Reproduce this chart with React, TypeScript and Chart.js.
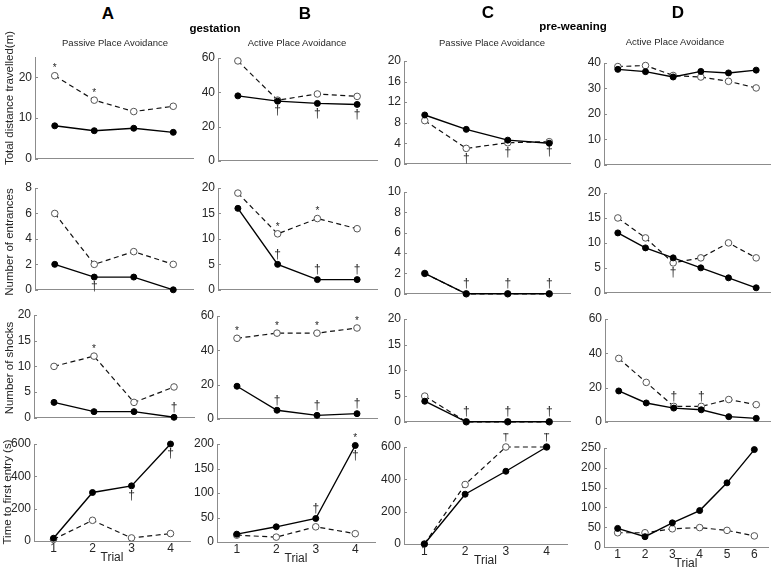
import React, { useEffect, useRef } from 'react';
import { Chart, registerables } from 'chart.js';
Chart.register(...registerables);

// ---------- data ----------
const trials4 = [1, 2, 3, 4];
const trials6 = [1, 2, 3, 4, 5, 6];

// Total distance travelled (m)
const distA_open = [20.4, 14.4, 11.6, 12.9];
const distA_filled = [8.1, 6.9, 7.5, 6.5];
const distB_open = [58.3, 35.4, 39.0, 37.6];
const distB_filled = [37.9, 34.8, 33.5, 32.9];
const distC_open = [8.4, 3.0, 4.1, 4.3];
const distC_filled = [9.5, 6.7, 4.6, 4.0];
const distD_open = [38.6, 39.0, 35.1, 34.5, 32.8, 30.2];
const distD_filled = [37.5, 36.6, 34.5, 36.7, 36.1, 37.2];

// Number of entrances
const entA_open = [6, 2, 3, 2];
const entA_filled = [2, 1, 1, 0];
const entB_open = [19, 11, 14, 12];
const entB_filled = [16, 5, 2, 2];
const entC_open = [2, 0, 0, 0];
const entC_filled = [2, 0, 0, 0];
const entD_open = [15, 11, 6, 7, 10, 7];
const entD_filled = [12, 9, 7, 5, 3, 1];

// Number of shocks
const shkA_open = [10, 12, 3, 6];
const shkA_filled = [3, 1.2, 1.2, 0.1];
const shkB_open = [47, 50, 50, 53];
const shkB_filled = [19, 5, 2, 3];
const shkC_open = [5, 0, 0, 0];
const shkC_filled = [4, 0, 0, 0];
const shkD_open = [37, 23, 9, 9, 13, 10];
const shkD_filled = [18, 11, 8, 7, 3, 2];

// Time to first entry (s)
const tfeA_open = [10, 128, 19, 46];
const tfeA_filled = [17, 300, 341, 600];
const tfeB_open = [14, 10, 31, 17];
const tfeB_filled = [16, 31, 48, 197];
const tfeC_open = [0, 368, 600, 600];
const tfeC_filled = [0, 308, 450, 600];
const tfeD_open = [36, 36, 46, 49, 42, 28];
const tfeD_filled = [47, 26, 61, 92, 162, 246];

// y tick labels
const ticksDistA = [0, 10, 20];
const ticksDistB = [0, 20, 40, 60];
const ticksDistC = [0, 4, 8, 12, 16, 20];
const ticksDistD = [0, 10, 20, 30, 40];
const ticksEntA = [0, 2, 4, 6, 8];
const ticksEntB = [0, 5, 10, 15, 20];
const ticksEntC = [0, 2, 4, 6, 8, 10];
const ticksEntD = [0, 5, 10, 15, 20];
const ticksShkA = [0, 5, 10, 15, 20];
const ticksShkB = [0, 20, 40, 60];
const ticksShkC = [0, 5, 10, 15, 20];
const ticksShkD = [0, 20, 40, 60];
const ticksTfeA = [0, 200, 400, 600];
const ticksTfeB = [0, 50, 100, 150, 200];
const ticksTfeC = [0, 200, 400, 600];
const ticksTfeD = [0, 50, 100, 150, 200, 250];

// significance marks: series, point index, symbol, side
type Mark = { s: 'open' | 'filled'; i: number; t: string; p: 'above' | 'below' };
const marksDistA: Mark[] = [{ s: 'open', i: 0, t: '*', p: 'above' }, { s: 'open', i: 1, t: '*', p: 'above' }];
const marksDistB: Mark[] = [1, 2, 3].map((i) => ({ s: 'filled', i, t: '†', p: 'below' } as Mark));
const marksDistC: Mark[] = [1, 2, 3].map((i) => ({ s: 'open', i, t: '†', p: 'below' } as Mark));
const marksDistD: Mark[] = [];
const marksEntA: Mark[] = [{ s: 'filled', i: 1, t: '†', p: 'below' }];
const marksEntB: Mark[] = [
  { s: 'open', i: 1, t: '*', p: 'above' }, { s: 'open', i: 2, t: '*', p: 'above' },
  ...[1, 2, 3].map((i) => ({ s: 'filled', i, t: '†', p: 'above' } as Mark)),
];
const marksEntC: Mark[] = [1, 2, 3].map((i) => ({ s: 'filled', i, t: '†', p: 'above' } as Mark));
const marksEntD: Mark[] = [{ s: 'open', i: 2, t: '†', p: 'below' }];
const marksShkA: Mark[] = [{ s: 'open', i: 1, t: '*', p: 'above' }, { s: 'filled', i: 3, t: '†', p: 'above' }];
const marksShkB: Mark[] = [
  ...[0, 1, 2, 3].map((i) => ({ s: 'open', i, t: '*', p: 'above' } as Mark)),
  ...[1, 2, 3].map((i) => ({ s: 'filled', i, t: '†', p: 'above' } as Mark)),
];
const marksShkC: Mark[] = [1, 2, 3].map((i) => ({ s: 'filled', i, t: '†', p: 'above' } as Mark));
const marksShkD: Mark[] = [2, 3].map((i) => ({ s: 'open', i, t: '†', p: 'above' } as Mark));
const marksTfeA: Mark[] = [{ s: 'filled', i: 2, t: '†', p: 'below' }, { s: 'filled', i: 3, t: '†', p: 'below' }];
const marksTfeB: Mark[] = [
  { s: 'filled', i: 2, t: '†', p: 'above' }, { s: 'filled', i: 3, t: '*', p: 'above' }, { s: 'filled', i: 3, t: '†', p: 'below' },
];
const marksTfeC: Mark[] = [2, 3].map((i) => ({ s: 'open', i, t: '†', p: 'above' } as Mark));
const marksTfeD: Mark[] = [];

// ---------- layout (page pixels of each plot box) ----------
type Box = { l: number; r: number; t: number; b: number };
type PanelCfg = {
  x: number[]; open: number[]; filled: number[]; yTicks: number[]; yMax: number;
  marks: Mark[]; box: Box; xLabels: boolean;
};

const panels: PanelCfg[] = [
  { x: trials4, open: distA_open, filled: distA_filled, yTicks: ticksDistA, yMax: 25, marks: marksDistA, box: { l: 35, r: 193, t: 57, b: 164 }, xLabels: false },
  { x: trials4, open: distB_open, filled: distB_filled, yTicks: ticksDistB, yMax: 60, marks: marksDistB, box: { l: 218, r: 377, t: 58, b: 166 }, xLabels: false },
  { x: trials4, open: distC_open, filled: distC_filled, yTicks: ticksDistC, yMax: 20, marks: marksDistC, box: { l: 404, r: 570, t: 61, b: 169 }, xLabels: false },
  { x: trials6, open: distD_open, filled: distD_filled, yTicks: ticksDistD, yMax: 40, marks: marksDistD, box: { l: 604, r: 770, t: 63, b: 170 }, xLabels: false },

  { x: trials4, open: entA_open, filled: entA_filled, yTicks: ticksEntA, yMax: 8, marks: marksEntA, box: { l: 35, r: 193, t: 188, b: 295 }, xLabels: false },
  { x: trials4, open: entB_open, filled: entB_filled, yTicks: ticksEntB, yMax: 20, marks: marksEntB, box: { l: 218, r: 377, t: 188, b: 295 }, xLabels: false },
  { x: trials4, open: entC_open, filled: entC_filled, yTicks: ticksEntC, yMax: 10, marks: marksEntC, box: { l: 404, r: 570, t: 192, b: 299 }, xLabels: false },
  { x: trials6, open: entD_open, filled: entD_filled, yTicks: ticksEntD, yMax: 20, marks: marksEntD, box: { l: 604, r: 770, t: 193, b: 298 }, xLabels: false },

  { x: trials4, open: shkA_open, filled: shkA_filled, yTicks: ticksShkA, yMax: 20, marks: marksShkA, box: { l: 34, r: 194, t: 315, b: 423 }, xLabels: false },
  { x: trials4, open: shkB_open, filled: shkB_filled, yTicks: ticksShkB, yMax: 60, marks: marksShkB, box: { l: 217, r: 377, t: 316, b: 424 }, xLabels: false },
  { x: trials4, open: shkC_open, filled: shkC_filled, yTicks: ticksShkC, yMax: 20, marks: marksShkC, box: { l: 404, r: 570, t: 319, b: 427 }, xLabels: false },
  { x: trials6, open: shkD_open, filled: shkD_filled, yTicks: ticksShkD, yMax: 60, marks: marksShkD, box: { l: 605, r: 770, t: 319, b: 427 }, xLabels: false },

  { x: trials4, open: tfeA_open, filled: tfeA_filled, yTicks: ticksTfeA, yMax: 600, marks: marksTfeA, box: { l: 34, r: 190, t: 444, b: 541 }, xLabels: true },
  { x: trials4, open: tfeB_open, filled: tfeB_filled, yTicks: ticksTfeB, yMax: 200, marks: marksTfeB, box: { l: 217, r: 375, t: 444, b: 542 }, xLabels: true },
  { x: trials4, open: tfeC_open, filled: tfeC_filled, yTicks: ticksTfeC, yMax: 600, marks: marksTfeC, box: { l: 404, r: 567, t: 447, b: 544 }, xLabels: true },
  { x: trials6, open: tfeD_open, filled: tfeD_filled, yTicks: ticksTfeD, yMax: 250, marks: marksTfeD, box: { l: 604, r: 768, t: 448, b: 547 }, xLabels: true },
];

const FONT = '"Liberation Sans", Arial, sans-serif';
const TEXT = '#262626';
const AXIS = '#8c8c8c';
const YW = 34, PT = 14, PR = 8, PB = 5;

function Panel({ cfg }: { cfg: PanelCfg }) {
  const ref = useRef<HTMLCanvasElement>(null);
  const XH = cfg.xLabels ? 24 : 0;
  const pb = cfg.xLabels ? 2 : PB;
  const { l, r, t, b } = cfg.box;
  const width = YW + (r - l) + PR;
  const height = PT + (b - t) + XH + pb;

  useEffect(() => {
    if (!ref.current) return;
    const marksPlugin = {
      id: 'sigmarks',
      afterDatasetsDraw(chart: any) {
        const { ctx, scales } = chart;
        const xs = scales.x, ys = scales.y;
        ctx.save();
        // inward tick marks on y axis
        ctx.strokeStyle = AXIS;
        ctx.lineWidth = 1;
        cfg.yTicks.forEach((v) => {
          const py = Math.round(ys.getPixelForValue(v)) + 0.5;
          ctx.beginPath();
          ctx.moveTo(chart.chartArea.left, py);
          ctx.lineTo(chart.chartArea.left + 3, py);
          ctx.stroke();
        });
        ctx.fillStyle = TEXT;
        ctx.textAlign = 'center';
        ctx.textBaseline = 'middle';
        cfg.marks.forEach((m) => {
          const vals = m.s === 'open' ? cfg.open : cfg.filled;
          const px = xs.getPixelForValue(cfg.x[m.i]);
          const py = ys.getPixelForValue(vals[m.i]);
          if (m.t === '*') {
            ctx.font = `10px ${FONT}`;
            ctx.fillText('*', px, py + (m.p === 'above' ? -7 : 11));
          } else {
            ctx.font = `12px ${FONT}`;
            ctx.fillText('†', px, py + (m.p === 'above' ? -10 : 10));
          }
        });
        ctx.restore();
      },
    };

    const n = cfg.x.length;
    const chart = new Chart(ref.current, {
      type: 'line',
      data: {
        datasets: [
          {
            data: cfg.x.map((v, i) => ({ x: v, y: cfg.filled[i] })),
            borderColor: '#000', borderWidth: 1.4,
            pointRadius: 3, pointBackgroundColor: '#000', pointBorderColor: '#000', pointBorderWidth: 1,
            clip: false, tension: 0,
          },
          {
            data: cfg.x.map((v, i) => ({ x: v, y: cfg.open[i] })),
            borderColor: '#111', borderWidth: 1.2, borderDash: [5, 3.5],
            pointRadius: 3.3, pointBackgroundColor: '#fff', pointBorderColor: '#555', pointBorderWidth: 1,
            clip: false, tension: 0,
          },
        ],
      },
      options: {
        animation: false,
        responsive: false,
        devicePixelRatio: 1,
        layout: { padding: { top: PT, right: PR, bottom: pb, left: 0 } },
        plugins: { legend: { display: false }, tooltip: { enabled: false }, title: { display: false } },
        scales: {
          x: {
            type: 'linear', min: 0.5, max: n + 0.5,
            afterBuildTicks: (s: any) => { s.ticks = cfg.x.map((v) => ({ value: v })); },
            afterFit: (s: any) => { s.height = XH; },
            grid: { display: false, drawTicks: false },
            border: { display: true, color: AXIS, width: 1 },
            ticks: { display: cfg.xLabels, padding: 0, autoSkip: false, maxRotation: 0, color: TEXT, font: { family: FONT, size: 12 } },
            title: { display: cfg.xLabels, text: 'Trial', padding: 0, color: TEXT, font: { family: FONT, size: 12 } },
          },
          y: {
            type: 'linear', min: 0, max: cfg.yMax,
            afterBuildTicks: (s: any) => { s.ticks = cfg.yTicks.map((v) => ({ value: v })); },
            afterFit: (s: any) => { s.width = YW; },
            grid: { display: false, drawTicks: false },
            border: { display: true, color: AXIS, width: 1 },
            ticks: { padding: 3, autoSkip: false, color: TEXT, font: { family: FONT, size: 12 } },
          },
        },
      },
      plugins: [marksPlugin],
    } as any);
    return () => chart.destroy();
  }, [cfg]);

  return (
    <canvas
      ref={ref}
      width={width}
      height={height}
      style={{ position: 'absolute', left: l - YW, top: t - PT, width, height }}
    />
  );
}

function Label({ x, y, text, size, bold, rotate, color }: { x: number; y: number; text: string; size: number; bold?: boolean; rotate?: boolean; color?: string }) {
  return (
    <div
      style={{
        position: 'absolute', left: x, top: y,
        transform: `translate(-50%, -50%)${rotate ? ' rotate(-90deg)' : ''}`,
        whiteSpace: 'nowrap', fontFamily: FONT, fontSize: size, lineHeight: 1,
        fontWeight: bold ? 'bold' : 'normal', color: color || TEXT,
      }}
    >
      {text}
    </div>
  );
}

export default function App() {
  return (
    <div style={{ position: 'absolute', left: 0, top: 0, width: 776, height: 571, background: '#fff', overflow: 'hidden' }}>
      {panels.map((p, i) => <Panel key={i} cfg={p} />)}
      <Label x={108} y={13} text="A" size={17} bold color="#000" />
      <Label x={305} y={13} text="B" size={17} bold color="#000" />
      <Label x={488} y={12} text="C" size={17} bold color="#000" />
      <Label x={678} y={12} text="D" size={17} bold color="#000" />
      <Label x={215} y={29} text="gestation" size={11.5} bold color="#000" />
      <Label x={573} y={27} text="pre-weaning" size={11.5} bold color="#000" />
      <Label x={115} y={43} text="Passive Place Avoidance" size={9.5} />
      <Label x={297} y={43} text="Active Place Avoidance" size={9.5} />
      <Label x={492} y={43} text="Passive Place Avoidance" size={9.5} />
      <Label x={675} y={42} text="Active Place Avoidance" size={9.5} />
      <Label x={10} y={98} text="Total distance travelled(m)" size={11.5} rotate />
      <Label x={10} y={242} text="Number of entrances" size={11.5} rotate />
      <Label x={10} y={368} text="Number of shocks" size={11.5} rotate />
      <Label x={8} y={492} text="Time to first entry (s)" size={11.5} rotate />
    </div>
  );
}
